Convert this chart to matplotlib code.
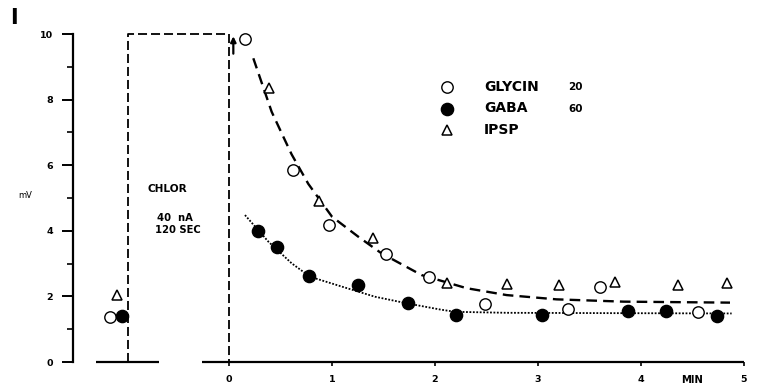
import matplotlib
matplotlib.use("Agg")
import matplotlib.pyplot as plt
from matplotlib.lines import Line2D

# ---- data -------------------------------------------------------------
# time after the end of the chlorpromazine application (min) and response (mV)
glycin_t = [0.155, 0.618, 0.974, 1.521, 1.942, 2.49, 3.294, 3.60, 4.55]
glycin_mv = [9.85, 5.85, 4.18, 3.29, 2.60, 1.77, 1.61, 2.28, 1.52]

gaba_t = [0.278, 0.469, 0.777, 1.249, 1.735, 2.204, 3.036, 3.877, 4.243, 4.741]
gaba_mv = [3.99, 3.50, 2.62, 2.35, 1.81, 1.43, 1.43, 1.56, 1.56, 1.40]

ipsp_t = [0.388, 0.877, 1.395, 2.12, 2.696, 3.204, 3.748, 4.356, 4.832]
ipsp_mv = [8.36, 4.92, 3.77, 2.40, 2.37, 2.35, 2.45, 2.35, 2.40]

# control values before the application (drawn left of the broken axis)
control_pos = [-1.155, -1.042, -1.085]   # glycin, gaba, ipsp
control_mv = [1.38, 1.40, 2.04]

# hand-drawn recovery curves
glycin_fit_t = [0.236, 0.414, 0.527, 0.608, 0.770, 1.0, 1.255, 1.482, 1.870,
                2.307, 2.696, 3.18, 3.83, 4.864]
glycin_fit_mv = [9.26, 7.63, 6.87, 6.33, 5.43, 4.43, 3.82, 3.31, 2.65,
                 2.25, 2.04, 1.91, 1.84, 1.81]
gaba_fit_t = [0.155, 0.382, 0.608, 0.786, 1.094, 1.417, 1.725, 2.05, 2.194,
              2.696, 3.667, 4.88]
gaba_fit_mv = [4.48, 3.67, 3.01, 2.60, 2.30, 1.99, 1.79, 1.60, 1.53,
               1.50, 1.49, 1.48]

# application period (broken-axis positions) and its level
appl_start, appl_end, appl_level = -0.978, 0.0, 10.0

y_ticks = [0, 2, 4, 6, 8, 10]
x_ticks = [0, 1, 2, 3, 4, 5]

# ---- figure -------------------------------------------------------------
W, H = 758, 392
fig = plt.figure(figsize=(W / 100, H / 100), dpi=100)
fig.patch.set_facecolor("white")

# pixel layout of the axes box
px_left, px_right, px_top, px_bottom = 72.7, 750.0, 20.0, 362.0
px_per_min, px_per_mv, px_zero = 103.0, 32.8, 229.0
ax = fig.add_axes([px_left / W, 1 - px_bottom / H,
                   (px_right - px_left) / W, (px_bottom - px_top) / H])
ax.set_xlim((px_left - px_zero) / px_per_min, (px_right - px_zero) / px_per_min)
ax.set_ylim(0, (px_bottom - px_top) / px_per_mv)

FONT = "DejaVu Sans"

# axes styling
for s in ("top", "right", "bottom"):
    ax.spines[s].set_visible(False)
ax.spines["left"].set_linewidth(1.6)
ax.spines["left"].set_bounds(0, 10)
ax.set_yticks(y_ticks)
ax.set_yticks([1, 3, 5, 7, 9], minor=True)
ax.set_yticklabels([str(v) for v in y_ticks], fontsize=6.8,
                   fontweight="bold", family=FONT)
ax.tick_params(axis="y", which="major", direction="out", length=8,
               width=1.4, pad=6)
ax.tick_params(axis="y", which="minor", direction="out", length=4.5,
               width=1.2)
ax.set_xticks(x_ticks)
ax.set_xticklabels([str(v) for v in x_ticks], fontsize=6.8,
                   fontweight="bold", family=FONT)
ax.tick_params(axis="x", direction="out", length=3, width=1.2, pad=6)

# broken baseline
ax.plot([-1.291, -0.680], [0, 0], color="black", lw=1.6,
        solid_capstyle="butt", clip_on=False)
ax.plot([-0.265, 5.0], [0, 0], color="black", lw=1.6,
        solid_capstyle="butt", clip_on=False)

# application period box
ax.plot([appl_start, appl_start, appl_end, appl_end],
        [0, appl_level, appl_level, 0],
        color="black", lw=1.3, dashes=(5, 2.2), clip_on=False)
ax.annotate("", xy=(0.042, 9.93), xytext=(0.042, 9.40),
            arrowprops=dict(arrowstyle="-|>", color="black", lw=1.6,
                            mutation_scale=8, shrinkA=0, shrinkB=0))

# recovery curves
ax.plot(glycin_fit_t, glycin_fit_mv, color="black", lw=1.7,
        dashes=(4.5, 2.6), clip_on=False)
ax.plot(gaba_fit_t, gaba_fit_mv, color="black", lw=1.3,
        dashes=(1.0, 0.9), clip_on=False)

# markers
open_kw = dict(ls="none", marker="o", ms=8.2, mfc="white", mec="black",
               mew=1.0, clip_on=False, zorder=4)
fill_kw = dict(ls="none", marker="o", ms=8.8, mfc="black", mec="black",
               mew=1.0, clip_on=False, zorder=4)
tri_kw = dict(ls="none", marker="^", ms=7.0, mfc="white", mec="black",
              mew=1.1, clip_on=False, zorder=4)

ax.plot(glycin_t, glycin_mv, **open_kw)
ax.plot(gaba_t, gaba_mv, **fill_kw)
ax.plot(ipsp_t, ipsp_mv, **tri_kw)
ax.plot(control_pos[0], control_mv[0], **open_kw)
ax.plot(control_pos[1], control_mv[1], **fill_kw)
ax.plot(control_pos[2], control_mv[2], **tri_kw)


def fpos(px, py):
    return px / W, 1 - py / H


# legend
legend_rows = [("GLYCIN", "20", open_kw, 86.7),
               ("GABA", "60", fill_kw, 108.5),
               ("IPSP", "", tri_kw, 130.0)]
for label, num, kw, py in legend_rows:
    fx, fy = fpos(446.7, py)
    kw2 = dict(kw)
    kw2.pop("clip_on")
    fig.add_artist(Line2D([fx], [fy], transform=fig.transFigure, **kw2))
    fig.text(*fpos(484, py), label, fontsize=10, fontweight="bold",
             family=FONT, va="center", ha="left")
    if num:
        fig.text(*fpos(568, py), num, fontsize=7.5, fontweight="bold",
                 family=FONT, va="center", ha="left")

# annotations
fig.text(*fpos(147, 189), "CHLOR", fontsize=7.6, fontweight="bold",
         family=FONT, va="center", ha="left")
fig.text(*fpos(157, 218), "40  nA", fontsize=7.2, fontweight="bold",
         family=FONT, va="center", ha="left")
fig.text(*fpos(155, 230), "120 SEC", fontsize=7.2, fontweight="bold",
         family=FONT, va="center", ha="left")
fig.text(*fpos(25, 195), "mV", fontsize=6, family=FONT,
         va="center", ha="center")
fig.text(*fpos(692, 380), "MIN", fontsize=7.2, fontweight="bold",
         family=FONT, va="center", ha="center")
fig.text(*fpos(14, 18), "I", fontsize=15, fontweight="bold",
         family=FONT, va="center", ha="center")

fig.savefig("out.png", dpi=100, facecolor="white")
